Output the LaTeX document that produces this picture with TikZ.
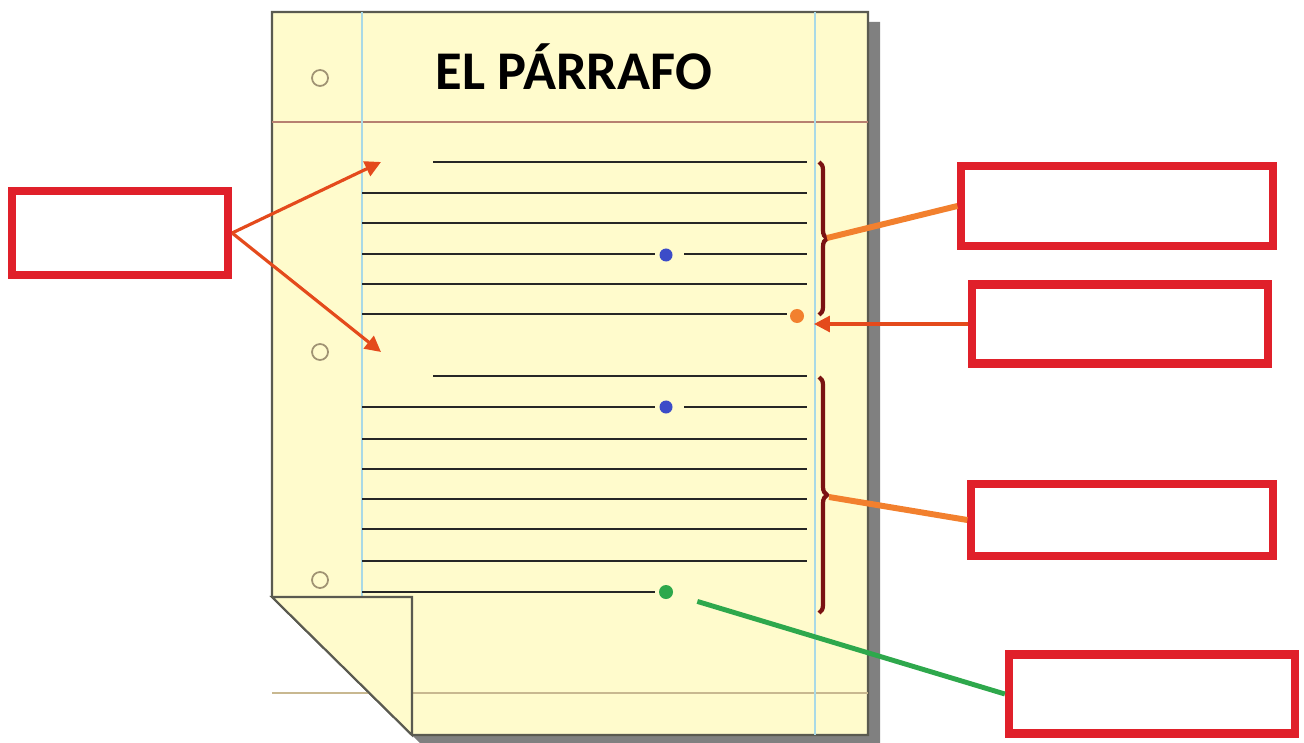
\documentclass[tikz,border=0pt]{standalone}
\usepackage{fontspec}
\setmainfont{Carlito}
\usetikzlibrary{arrows.meta,decorations.pathreplacing}

\definecolor{paperyellow}{HTML}{FFFBCC}
\definecolor{shadowgray}{HTML}{808080}
\definecolor{edgegray}{HTML}{5A5A50}
\definecolor{boxred}{HTML}{E0202A}
\definecolor{arrowred}{HTML}{E44A1C}
\definecolor{bracered}{HTML}{7A1212}
\definecolor{orangeline}{HTML}{F2802E}
\definecolor{dotblue}{HTML}{3C4CC8}
\definecolor{dotgreen}{HTML}{2EA84C}
\definecolor{margblue}{HTML}{A9D9E6}
\definecolor{rulered}{HTML}{B78070}
\definecolor{rulebeige}{HTML}{C8B890}

\tikzset{
  answerbox/.style={draw=boxred, line width=2.3pt, fill=white, inner sep=0pt},
  txtline/.style={black!85, line width=0.8pt},
  pointer/.style={arrowred, line width=0.9pt, -{Triangle[length=4.5pt,width=4.5pt]}},
  dot/.style={circle, inner sep=0pt, minimum size=0.13cm},
  parbrace/.style={bracered, line width=1.2pt, decorate, decoration={brace, amplitude=0.08cm}},
}

\begin{document}
\begin{tikzpicture}[x=0.01cm, y=-0.01cm]
        \useasboundingbox (0,0) rectangle (1304,743);
        % sheet with shadow
        \fill[shadowgray] (282,22) -- (282,605) -- (420,743) -- (880,743) -- (880,22) -- cycle;
        \draw[edgegray, line width=0.6pt, fill=paperyellow] (272,12) -- (272,597) -- (412,735) -- (868,735) -- (868,12) -- cycle;
        \draw[rulered, line width=0.4pt] (272,122) -- (868,122);
        \draw[rulebeige, line width=0.4pt] (272,693) -- (868,693);
        \draw[margblue, line width=0.5pt] (362,12) -- (362,686);
        \draw[margblue, line width=0.5pt] (815,12) -- (815,735);
        % folded corner
        \draw[edgegray, line width=0.6pt, fill=paperyellow] (272,597) -- (412,597) -- (412,735) -- cycle;
        % holes
        \foreach \y in {78,352,580}
          \draw[rulebeige!80!black, line width=0.5pt] (320,\y) circle (8);
        \node[font=\bfseries\fontsize{15.5}{18}\selectfont] (title) at (574,67) {EL PÁRRAFO};

        % first paragraph
        \draw[txtline] (433,162) -- (807,162);
        \foreach \y in {193,223,284}
          \draw[txtline] (362,\y) -- (807,\y);
        \draw[txtline] (362,254) -- (655,254);
        \draw[txtline] (684,254) -- (807,254);
        \draw[txtline] (362,314) -- (787,314);
        % second paragraph
        \draw[txtline] (433,376) -- (807,376);
        \draw[txtline] (362,407) -- (655,407);
        \draw[txtline] (684,407) -- (807,407);
        \foreach \y in {439,469,499,529,561}
          \draw[txtline] (362,\y) -- (807,\y);
        \draw[txtline] (362,592) -- (655,592);

        \node[dot, fill=dotblue] (blueA) at (666,255) {};
        \node[dot, fill=dotblue] (blueB) at (666,407) {};
        \node[dot, fill=orangeline, minimum size=0.14cm] (enddot) at (797,316) {};
        \node[dot, fill=dotgreen, minimum size=0.14cm] (lastdot) at (666,592) {};

        \draw[parbrace] (819,162) -- (819,315);
        \draw[parbrace] (819,377) -- (819,613);
        \coordinate (braceA) at (827,238);
        \coordinate (braceB) at (829,497);

        % boxes
        \node[answerbox, minimum width=2.16cm, minimum height=0.84cm] (leftbox) at (120,233) {};
        \node[answerbox, minimum width=3.11cm, minimum height=0.80cm] (boxA) at (1117,206) {};
        \node[answerbox, minimum width=2.95cm, minimum height=0.79cm] (boxB) at (1120,324) {};
        \node[answerbox, minimum width=3.01cm, minimum height=0.72cm] (boxC) at (1122,520) {};
        \node[answerbox, minimum width=2.86cm, minimum height=0.79cm] (boxD) at (1152,694) {};

        \coordinate (indentA) at (381,162);
        \coordinate (indentB) at (381,352);
        \coordinate (endmark) at (814,324);

        \draw[pointer] (leftbox.east) -- (indentA);
        \draw[pointer] (leftbox.east) -- (indentB);
        \draw[pointer] (boxB.west) -- (endmark);
        \draw[orangeline, line width=1.7pt] (braceA) -- (boxA.west);
        \draw[orangeline, line width=1.7pt] (braceB) -- (boxC.west);
        \draw[dotgreen, line width=1.4pt, shorten <=0.25cm] (lastdot) -- (boxD.west);
    \end{tikzpicture}
\end{document}
